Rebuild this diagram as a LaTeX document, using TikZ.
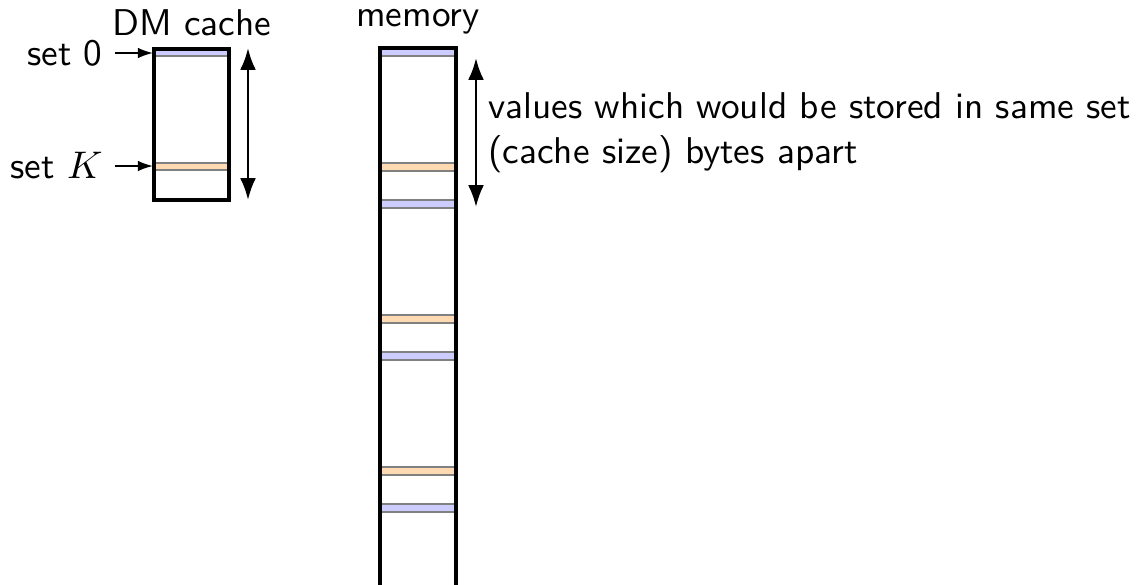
\documentclass[tikz,border=0pt]{standalone}
\usepackage{fontspec}
\usetikzlibrary{arrows.meta,positioning}
\begin{document}
\begin{tikzpicture}[x=0.01cm, y=-0.01cm,
	font=\sffamily\fontsize{10.6}{12.8}\selectfont,
	box/.style={line width=1pt},
	zeroset/.style={fill=blue!20, draw=gray, line width=0.4pt},
	kset/.style={fill=orange!30, draw=gray, line width=0.4pt},
	ptr/.style={-{Latex[length=4.3pt,width=3pt]}, line width=0.5pt},
	span/.style={{Latex[length=6.2pt,width=4.5pt]}-{Latex[length=6.2pt,width=4.5pt]}, line width=0.75pt}]
	\useasboundingbox (0,0) rectangle (1136,584);

	% the cache
	\draw[zeroset] (154,49) rectangle (229,56);
	\draw[kset] (154,163) rectangle (229,170);
	\draw[box] (154,49) rectangle (229,200);
	\node[above] (cachelbl) at (191.5,48) {DM cache};

	\coordinate (set0 in) at (153,53);
	\coordinate (setK in) at (153,166);
	\node[left=0.38cm of set0 in] (set0) {set 0};
	\node[left=0.38cm of setK in] (setK) {set $K$};
	\draw[ptr] (set0) -- (set0 in);
	\draw[ptr] (setK) -- (setK in);

	\coordinate (cache top) at (248,48);
	\coordinate (cache bot) at (248,200);
	\draw[span] (cache top) -- (cache bot);

	% memory
	\begin{scope}
		\clip (0,0) rectangle (1136,584);
		\foreach \y in {48,200,352,504}
			\draw[zeroset] (380,\y) rectangle (456,\y+8);
		\foreach \y in {163,315,467}
			\draw[kset] (380,\y) rectangle (456,\y+8);
		\draw[box] (380,48) rectangle (456,600);
	\end{scope}
	\node[above] (memlbl) at (418,47) {memory};

	\coordinate (mem top) at (476,58);
	\coordinate (mem bot) at (476,207);
	\draw[span] (mem top) -- (mem bot);
	\path (mem top) -- (mem bot) node[midway, right, align=left] (note)
		{values which would be stored in same set\\(cache size) bytes apart};
\end{tikzpicture}
\end{document}
